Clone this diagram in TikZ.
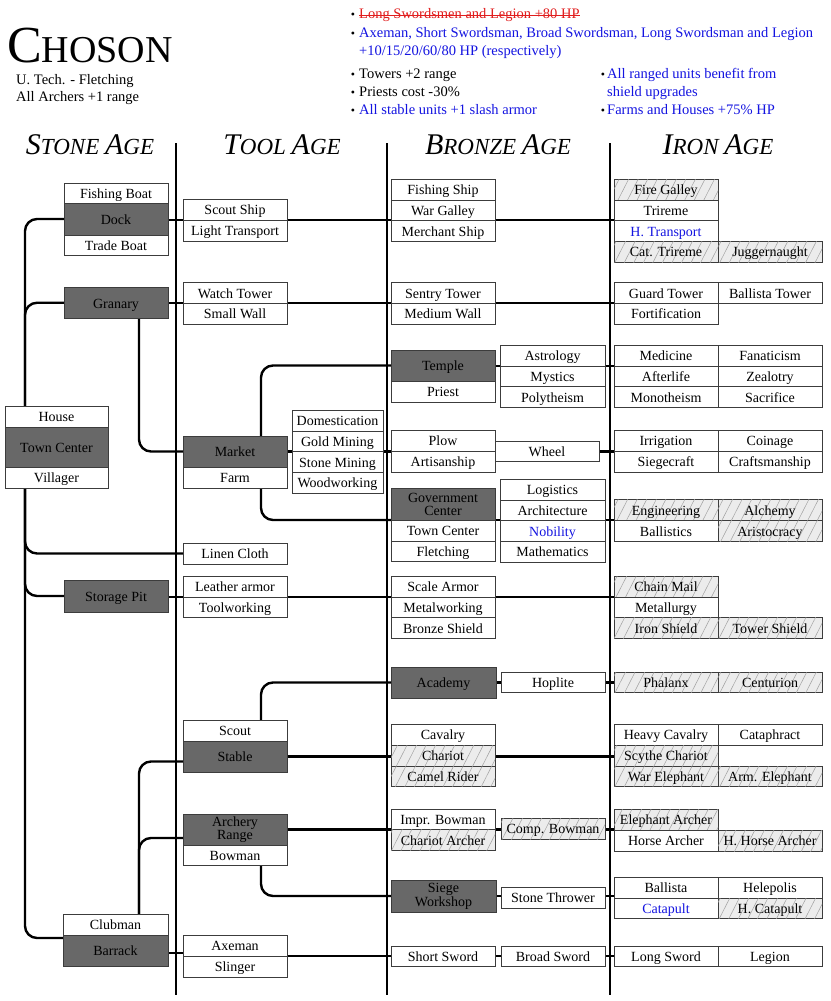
\documentclass[tikz,border=0pt]{standalone}
\usepackage{fontspec}
\setmainfont{Liberation Serif}
\usetikzlibrary{patterns.meta}
\pgfdeclarelayer{bg}
\pgfsetlayers{bg,main}
\definecolor{darkc}{RGB}{104,104,104}
\definecolor{bordc}{RGB}{60,60,60}
\definecolor{ublue}{RGB}{20,20,225}
\definecolor{ured}{RGB}{225,30,30}
\definecolor{hatbg}{RGB}{236,236,236}
\definecolor{hatc}{RGB}{160,160,160}
\newcommand{\BigL}{\fontsize{30}{30}\selectfont}
\newcommand{\SmL}{\fontsize{23}{23}\selectfont}
\newcommand{\cellbox}[7][cell]{\node[#1, minimum width={(#5-#3)*1pt}, minimum height={(#6-#4)*1pt}] (#2) at ({(#3+#5)/2},{(#4+#6)/2}) {#7};}
\tikzset{
  cellbase/.style={draw=bordc, line width=0.8pt, inner sep=0pt, outer sep=0pt, font=\fontsize{14}{16}\selectfont, fill=white},
  cell/.style={cellbase, text height=11.5pt, text depth=1pt},
  dark/.style={cell, fill=darkc},
  dark2/.style={cellbase, fill=darkc, align=center, font=\fontsize{14}{12.5}\selectfont},
  hat/.style={cell, fill=hatbg, postaction={pattern={Lines[angle=63,distance=8.5pt,line width=0.5pt]}, pattern color=hatc}},
  bl/.style={cell, text=ublue},
  conn/.style={line width=2.4pt, rounded corners=12pt},
  sep/.style={line width=2pt},
  hd/.style={anchor=base west, inner sep=0pt, font=\fontsize{14.5}{16}\selectfont},
  bul/.style={anchor=base, inner sep=0pt, font=\fontsize{12}{14}\selectfont},
  age/.style={anchor=base, inner sep=0pt, font=\itshape},
}
\begin{document}
\begin{tikzpicture}[x=1pt,y=-1pt]
\begin{pgfonlayer}{bg}
\fill[white] (0,0) rectangle (830,1001);
\end{pgfonlayer}
\useasboundingbox (0,0) rectangle (830,1001);

% title and notes
\node[anchor=base west, inner sep=0pt] (title) at (7,62) {{\fontsize{52}{52}\selectfont C}{\fontsize{38}{38}\selectfont HOSON}};
\node[hd] (ut) at (16,84) {U. Tech. - Fletching};
\node[hd] (arch) at (16,101) {All Archers +1 range};

\node[bul] (b1) at (353,19) {•};
\node[hd, text=ured] (t1) at (359,19) {Long Swordsmen and Legion +80 HP};
\draw[ured, line width=0.9pt] ([yshift=3.5pt]t1.base west) -- ([yshift=3.5pt]t1.base east);
\node[bul] (b2) at (353,37) {•};
\node[hd, text=ublue] (t2) at (359,37) {Axeman, Short Swordsman, Broad Swordsman, Long Swordsman and Legion};
\node[hd, text=ublue] (t3) at (359,55) {+10/15/20/60/80 HP (respectively)};
\node[bul] (b4) at (353,78) {•};
\node[hd] (t4) at (359,78) {Towers +2 range};
\node[bul] (b5) at (353,96) {•};
\node[hd] (t5) at (359,96) {Priests cost -30\%};
\node[bul] (b6) at (353,114) {•};
\node[hd, text=ublue] (t6) at (359,114) {All stable units +1 slash armor};
\node[bul] (b7) at (603,78) {•};
\node[hd, text=ublue] (t7) at (607,78) {All ranged units benefit from};
\node[hd, text=ublue] (t8) at (607,96) {shield upgrades};
\node[bul] (b9) at (603,114) {•};
\node[hd, text=ublue] (t9) at (607,114) {Farms and Houses +75\% HP};

% age headers
\node[age] (hstone) at (90,154) {\BigL S\SmL TONE \BigL A\SmL GE};
\node[age] (htool) at (282,154) {\BigL T\SmL OOL \BigL A\SmL GE};
\node[age] (hbronze) at (498,154) {\BigL B\SmL RONZE \BigL A\SmL GE};
\node[age] (hiron) at (718,154) {\BigL I\SmL RON \BigL A\SmL GE};

% Stone Age
\cellbox{fboat}{64}{183}{168}{203}{Fishing Boat}
\cellbox[dark]{dock}{64}{203}{168}{235}{Dock}
\cellbox{tboat}{64}{235}{168}{255.5}{Trade Boat}
\cellbox[dark]{granary}{64}{287}{168}{318.5}{Granary}
\cellbox{house}{5}{406}{108}{427}{House}
\cellbox[dark]{tc}{5}{427}{108}{467}{Town Center}
\cellbox{villager}{5}{467}{108}{488}{Villager}
\cellbox[dark]{storage}{64}{580}{168}{612}{Storage Pit}
\cellbox{clubman}{63}{914}{168}{935}{Clubman}
\cellbox[dark]{barrack}{63}{935}{168}{966}{Barrack}

% Tool Age
\cellbox{scoutship}{183}{199}{287}{220}{Scout Ship}
\cellbox{ltrans}{183}{220}{287}{241}{Light Transport}
\cellbox{watch}{183}{282.5}{287}{303}{Watch Tower}
\cellbox{swall}{183}{303}{287}{324}{Small Wall}
\cellbox[dark]{market}{183}{436}{287}{467}{Market}
\cellbox{farm}{183}{467}{287}{488}{Farm}
\cellbox{domest}{292}{410}{383}{431}{Domestication}
\cellbox{gold}{292}{431}{383}{451.5}{Gold Mining}
\cellbox{stone}{292}{451.5}{383}{472}{Stone Mining}
\cellbox{wood}{292}{472}{383}{493}{Woodworking}
\cellbox{linen}{183}{543}{287}{564}{Linen Cloth}
\cellbox{leather}{183}{576}{287}{597}{Leather armor}
\cellbox{toolw}{183}{597}{287}{617.5}{Toolworking}
\cellbox{scout}{183}{720}{287}{741}{Scout}
\cellbox[dark]{stable}{183}{741}{287}{772}{Stable}
\cellbox[dark2]{archery}{183}{814}{287}{845}{Archery\\Range}
\cellbox{bowman}{183}{845}{287}{865.5}{Bowman}
\cellbox{axeman}{183}{935}{287}{956}{Axeman}
\cellbox{slinger}{183}{956}{287}{977}{Slinger}

% Bronze Age
\cellbox{fship}{391}{179}{495}{200}{Fishing Ship}
\cellbox{wgalley}{391}{200}{495}{220.5}{War Galley}
\cellbox{mship}{391}{220.5}{495}{241}{Merchant Ship}
\cellbox{sentry}{391}{282.5}{495}{303}{Sentry Tower}
\cellbox{mwall}{391}{303}{495}{324}{Medium Wall}
\cellbox[dark]{temple}{391}{350}{495}{381}{Temple}
\cellbox{priest}{391}{381}{495}{402}{Priest}
\cellbox{astro}{500}{345}{605}{366}{Astrology}
\cellbox{mystics}{500}{366}{605}{386.5}{Mystics}
\cellbox{poly}{500}{386.5}{605}{407}{Polytheism}
\cellbox{plow}{391}{430}{495}{451}{Plow}
\cellbox{artisan}{391}{451}{495}{472}{Artisanship}
\cellbox{wheel}{495}{441}{599}{461.5}{Wheel}
\cellbox[dark2]{gov}{391}{488.5}{495}{520}{Government\\Center}
\cellbox{tcb}{391}{520}{495}{541}{Town Center}
\cellbox{fletch}{391}{541}{495}{561.5}{Fletching}
\cellbox{logis}{500}{479}{605}{500}{Logistics}
\cellbox{archi}{500}{500}{605}{520.5}{Architecture}
\cellbox[bl]{nobility}{500}{520.5}{605}{541}{Nobility}
\cellbox{math}{500}{541}{605}{562}{Mathematics}
\cellbox{scale}{391}{576}{495}{597}{Scale Armor}
\cellbox{metalw}{391}{597}{495}{617.5}{Metalworking}
\cellbox{bshield}{391}{617.5}{495}{638}{Bronze Shield}
\cellbox[dark]{academy}{391}{667}{496}{698}{Academy}
\cellbox{hoplite}{501}{672}{605}{692.5}{Hoplite}
\cellbox{cavalry}{391}{724}{495}{745}{Cavalry}
\cellbox[hat]{chariot}{391}{745}{495}{766}{Chariot}
\cellbox[hat]{camel}{391}{766}{495}{786}{Camel Rider}
\cellbox{imprb}{391}{809}{495}{829.5}{Impr. Bowman}
\cellbox[hat]{charch}{391}{829.5}{495}{850}{Chariot Archer}
\cellbox[hat]{compb}{501}{818}{605}{839}{Comp. Bowman}
\cellbox[dark2]{siege}{391}{880}{496}{912}{Siege\\Workshop}
\cellbox{stonet}{501}{887}{605}{908}{Stone Thrower}
\cellbox{ssword}{391}{946}{495}{966.5}{Short Sword}
\cellbox{bsword}{501}{946}{605}{966.5}{Broad Sword}

% Iron Age
\cellbox[hat]{firegal}{614}{179}{718}{200}{Fire Galley}
\cellbox{trireme}{614}{200}{718}{220.5}{Trireme}
\cellbox[bl]{htrans}{614}{220.5}{718}{241}{H. Transport}
\cellbox[hat]{cattri}{614}{241}{718}{262}{Cat. Trireme}
\cellbox[hat]{jugg}{718}{241}{822}{262}{Juggernaught}
\cellbox{guard}{614}{282.5}{718}{303}{Guard Tower}
\cellbox{btower}{718}{282.5}{822}{303}{Ballista Tower}
\cellbox{fortif}{614}{303}{718}{324}{Fortification}
\cellbox{medicine}{614}{345}{718}{366}{Medicine}
\cellbox{fanat}{718}{345}{822}{366}{Fanaticism}
\cellbox{afterlife}{614}{366}{718}{386.5}{Afterlife}
\cellbox{zealotry}{718}{366}{822}{386.5}{Zealotry}
\cellbox{mono}{614}{386.5}{718}{407}{Monotheism}
\cellbox{sacrifice}{718}{386.5}{822}{407}{Sacrifice}
\cellbox{irrig}{614}{430}{718}{451}{Irrigation}
\cellbox{coinage}{718}{430}{822}{451}{Coinage}
\cellbox{siegecraft}{614}{451}{718}{472}{Siegecraft}
\cellbox{crafts}{718}{451}{822}{472}{Craftsmanship}
\cellbox[hat]{engin}{614}{499.5}{718}{520.5}{Engineering}
\cellbox[hat]{alchemy}{718}{499.5}{822}{520.5}{Alchemy}
\cellbox{ballistics}{614}{520.5}{718}{541}{Ballistics}
\cellbox[hat]{aristo}{718}{520.5}{822}{541}{Aristocracy}
\cellbox[hat]{chain}{614}{576}{718}{597}{Chain Mail}
\cellbox{metallurgy}{614}{597}{718}{617.5}{Metallurgy}
\cellbox[hat]{ishield}{614}{617.5}{718}{638}{Iron Shield}
\cellbox[hat]{tshield}{718}{617.5}{822}{638}{Tower Shield}
\cellbox[hat]{phalanx}{614}{672}{718}{692.5}{Phalanx}
\cellbox[hat]{centurion}{718}{672}{822}{692.5}{Centurion}
\cellbox{hcav}{614}{724}{718}{745}{Heavy Cavalry}
\cellbox{cataph}{718}{724}{822}{745}{Cataphract}
\cellbox[hat]{scythe}{614}{745}{718}{766}{Scythe Chariot}
\cellbox[hat]{welep}{614}{766}{718}{786}{War Elephant}
\cellbox[hat]{aelep}{718}{766}{822}{786}{Arm. Elephant}
\cellbox[hat]{elarch}{614}{809}{718}{830}{Elephant Archer}
\cellbox{harch}{614}{830}{718}{851}{Horse Archer}
\cellbox[hat]{hharch}{718}{830}{822}{851}{H. Horse Archer}
\cellbox{ballista}{614}{877}{718}{898}{Ballista}
\cellbox{helep}{718}{877}{822}{898}{Helepolis}
\cellbox[bl]{catapult}{614}{898}{718}{918.5}{Catapult}
\cellbox[hat]{hcat}{718}{898}{822}{918.5}{H. Catapult}
\cellbox{lsword}{614}{946}{718}{966.5}{Long Sword}
\cellbox{legion}{718}{946}{822}{966.5}{Legion}

\begin{pgfonlayer}{bg}
% age separators
\draw[sep] (176,143) -- (176,995);
\draw[sep] (387,143) -- (387,995);
\draw[sep] (610,143) -- (610,995);
% trunk
\coordinate (trunk) at (25,0);
\draw[conn] (dock.west) -| (trunk |- house.north);
\draw[conn] (granary.west) -| (trunk |- house.north);
\draw[conn] (trunk |- villager.south) |- ([yshift=-3pt]barrack.north west);
\draw[conn] (trunk |- villager.south) |- (linen.west);
\draw[conn] (trunk |- villager.south) |- (storage.west);
% horizontal lines
\draw[conn] (dock.east |- ltrans.north) -- (ltrans.north -| trireme.west);
\draw[conn] (granary.east |- swall.north) -- (swall.north -| fortif.west);
\draw[conn] (market.east |- stone.north) -- (stone.north -| siegecraft.west);
\draw[conn] (temple.east |- mystics.north) -- (mystics.north -| afterlife.west);
\draw[conn] (tcb.north east) -- (tcb.north east -| ballistics.west);
\draw[conn] (storage.east |- toolw.north) -- (toolw.north -| metallurgy.west);
\draw[conn] (academy.east) -- (academy.east -| phalanx.west);
\draw[conn] (stable.east) -- (stable.east -| scythe.west);
\draw[conn] (archery.east |- charch.north) -- (charch.north -| harch.west);
\draw[conn] (siege.east) -- (siege.east -| catapult.west);
\draw[conn] ([yshift=-2.5pt]barrack.east) -- ([yshift=-2.5pt]barrack.east -| axeman.west);
\draw[conn] (axeman.south east) -- (axeman.south east -| lsword.west);
% branches
\draw[conn] ([xshift=23pt]granary.south) |- (market.west);
\draw[conn] ([xshift=26pt]market.north) |- (temple.west);
\draw[conn] ([xshift=26pt]farm.south) |- (tcb.north west);
\draw[conn] ([xshift=26pt]scout.north) |- (academy.west);
\draw[conn] ([xshift=26pt]bowman.south) |- (siege.west);
\draw[conn] ([yshift=-5pt]stable.west) -| ([xshift=23.5pt]clubman.north);
\draw[conn] ([yshift=-8.5pt]archery.west) -| ([xshift=23.5pt]clubman.north);
\end{pgfonlayer}
\end{tikzpicture}
\end{document}
